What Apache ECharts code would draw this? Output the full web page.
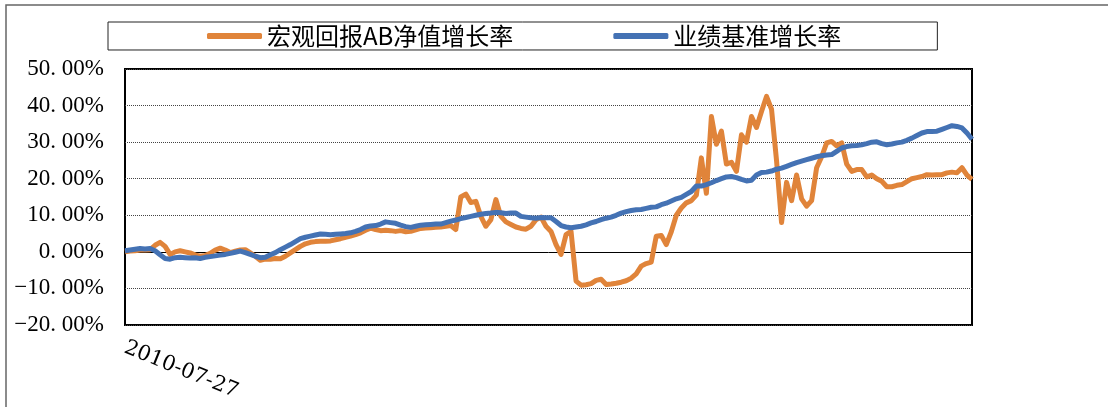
<!DOCTYPE html>
<html>
<head>
<meta charset="utf-8">
<script src="https://cdn.jsdelivr.net/npm/echarts@6/dist/echarts.min.js"></script>
<style>
html, body { margin: 0; padding: 0; background: #fff; }
#main { width: 1108px; height: 407px; }
</style>
</head>
<body>
<div id="main"></div>
<script>
// 数据：两条累计增长率曲线（%），按图上读数估计
var seriesNames = ['宏观回报AB净值增长率', '业绩基准增长率'];
var startDate = '2010-07-27';
var yTicks = [-20, -10, 0, 10, 20, 30, 40, 50];

var navGrowth = [
	0.0, 0.2, 0.3, 0.5, 0.5, 0.6, 1.8, 2.6, 1.5, -0.7,
	0.0, 0.3, 0.0, -0.3, -0.8, -1.2, -1.0, -0.4, 0.5, 1.0,
	0.5, -0.2, 0.2, 0.5, 0.6, -0.3, -1.2, -2.3, -2.0, -2.0,
	-1.8, -1.9, -1.2, -0.3, 0.6, 1.5, 2.2, 2.6, 2.8, 2.9,
	2.9, 3.0, 3.3, 3.6, 4.0, 4.3, 4.7, 5.2, 5.9, 6.5,
	6.1, 5.8, 5.9, 5.8, 5.6, 5.8, 5.5, 5.6, 6.0, 6.4,
	6.5, 6.6, 6.7, 6.8, 7.0, 7.2, 6.1, 15.0, 15.8, 13.5,
	13.8, 9.7, 7.0, 8.8, 14.3, 9.7, 8.2, 7.5, 6.8, 6.4,
	6.2, 7.0, 8.8, 9.5, 7.0, 5.6, 2.0, -0.7, 4.7, 5.6,
	-8.0, -9.1, -9.0, -8.7, -7.8, -7.5, -8.9, -8.8, -8.6, -8.3,
	-7.9, -7.2, -6.0, -3.9, -3.2, -2.8, 4.3, 4.5, 2.0, 5.5,
	10.0, 12.0, 13.4, 14.0, 15.5, 25.7, 16.0, 37.0, 29.4, 33.0,
	24.0, 24.5, 22.0, 32.0, 30.0, 37.0, 34.0, 38.4, 42.5, 39.0,
	25.0, 8.0, 19.0, 14.0, 21.0, 14.5, 12.5, 14.0, 23.0, 26.0,
	29.8, 30.2, 29.0, 29.8, 24.0, 22.0, 22.5, 22.5, 20.5, 21.0,
	20.0, 19.3, 17.8, 17.8, 18.2, 18.4, 19.2, 20.0, 20.3, 20.6,
	21.1, 21.0, 21.1, 21.1, 21.6, 21.8, 21.6, 23.0, 21.0, 19.8
];

var benchGrowth = [
	0.3, 0.5, 0.7, 0.9, 0.8, 0.9, 0.3, -0.8, -1.8, -2.0,
	-1.6, -1.5, -1.6, -1.7, -1.6, -1.8, -1.5, -1.3, -1.1, -0.9,
	-0.7, -0.4, -0.1, 0.2, -0.2, -0.7, -1.2, -1.6, -1.5, -0.8,
	-0.2, 0.6, 1.3, 2.0, 2.8, 3.6, 4.0, 4.3, 4.6, 4.9,
	4.8, 4.7, 4.8, 4.9, 5.0, 5.2, 5.6, 6.1, 6.8, 7.1,
	7.2, 7.6, 8.2, 8.0, 7.8, 7.3, 6.9, 6.7, 7.0, 7.3,
	7.4, 7.5, 7.6, 7.6, 8.0, 8.4, 8.7, 9.1, 9.4, 9.7,
	10.0, 10.3, 10.5, 10.6, 10.8, 10.7, 10.5, 10.6, 10.6, 9.7,
	9.5, 9.3, 9.2, 9.4, 9.3, 9.3, 8.3, 7.2, 6.8, 6.6,
	6.8, 7.0, 7.4, 7.9, 8.3, 8.8, 9.2, 9.5, 10.0, 10.6,
	11.0, 11.3, 11.5, 11.6, 11.9, 12.2, 12.3, 12.9, 13.3, 13.9,
	14.5, 14.9, 15.7, 16.5, 18.0, 18.0, 18.4, 18.9, 19.5, 20.0,
	20.5, 20.6, 20.3, 19.8, 19.4, 19.6, 21.0, 21.7, 21.8, 22.1,
	22.6, 22.9, 23.4, 23.9, 24.4, 24.8, 25.2, 25.6, 26.0, 26.3,
	26.5, 26.6, 27.5, 28.4, 28.8, 29.0, 29.1, 29.3, 29.6, 30.0,
	30.1, 29.6, 29.3, 29.5, 29.8, 30.0, 30.5, 31.1, 31.8, 32.5,
	32.9, 32.9, 33.0, 33.5, 34.0, 34.5, 34.3, 33.9, 32.5, 30.8
];

// 横轴日期（只显示第一个）
var dates = [];
var d = new Date(startDate + 'T00:00:00Z');
for (var i = 0; i < navGrowth.length; i++) {
	dates.push(d.toISOString().slice(0, 10));
	d.setUTCDate(d.getUTCDate() + 7);
}

var chart = echarts.init(document.getElementById('main'));

var serifFont = '"Liberation Serif", "DejaVu Serif", serif';

var option = {
	backgroundColor: '#fff',
	animation: false,
	color: ['#E0843A', '#4472B4'],
	graphic: [{
		type: 'rect',
		shape: { x: 6, y: 5, width: 1200, height: 500 },
		style: { fill: 'none', stroke: '#666', lineWidth: 1.5 },
		silent: true
	}],
	legend: {
		data: seriesNames,
		left: 108,
		top: 22,
		icon: 'roundRect',
		itemWidth: 55,
		itemHeight: 6,
		itemGap: 100,
		padding: [2, 96, 2, 99],
		borderColor: '#222',
		borderWidth: 1,
		textStyle: {
			color: '#000',
			fontSize: 24,
			fontFamily: '"Noto Sans CJK SC", sans-serif'
		}
	},
	grid: {
		left: 125,
		right: 136,
		top: 69,
		bottom: 82,
		show: true,
		borderColor: '#000',
		borderWidth: 2
	},
	xAxis: {
		type: 'category',
		data: dates,
		boundaryGap: false,
		axisLine: { show: false },
		axisTick: { show: false },
		splitLine: { show: false },
		axisLabel: {
			interval: function (index) { return index === 0; },
			rotate: -22,
			margin: 22,
			color: '#000',
			fontSize: 21,
			fontFamily: '"DejaVu Serif", serif'
		}
	},
	yAxis: {
		type: 'value',
		min: yTicks[0],
		max: yTicks[yTicks.length - 1],
		interval: 10,
		axisLine: { show: false },
		axisTick: { show: false },
		axisLabel: {
			margin: 21,
			color: '#000',
			fontSize: 23,
			fontFamily: serifFont,
			formatter: function (v) {
				return (v < 0 ? '\u2212' + (-v) : v) + '. 00%';
			}
		},
		splitLine: {
			show: true,
			lineStyle: { color: '#444', type: 'dotted', width: 1 }
		}
	},
	series: [{
			name: seriesNames[0],
			type: 'line',
			data: navGrowth,
			showSymbol: false,
			lineStyle: { width: 5, join: 'round' },
			z: 2,
			markLine: {
				silent: true,
				symbol: 'none',
				label: { show: false },
				lineStyle: { color: '#000', type: 'solid', width: 1 },
				data: [{ yAxis: 0 }],
				z: 1
			}
		},
		{
			name: seriesNames[1],
			type: 'line',
			data: benchGrowth,
			showSymbol: false,
			lineStyle: { width: 5, join: 'round' },
			z: 3
		}
	]
};

chart.setOption(option);
</script>
</body>
</html>
